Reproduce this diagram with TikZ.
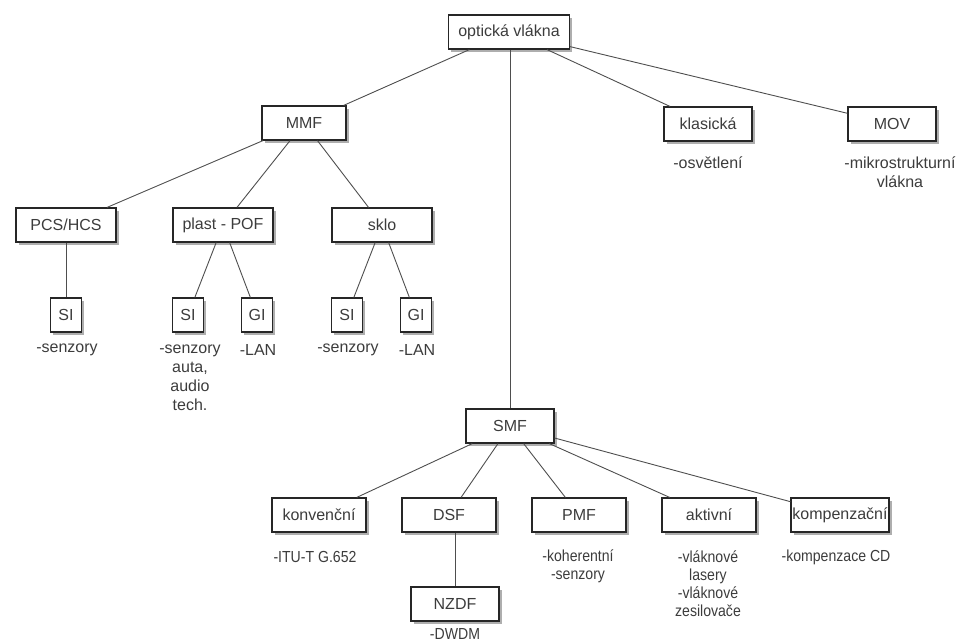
\documentclass[tikz,border=0pt]{standalone}
\usepackage{fontspec}
\setmainfont{Liberation Sans}
\newfontfamily\condfont[FakeStretch=0.88]{Liberation Sans}
\usetikzlibrary{shadows}
\definecolor{textogris}{HTML}{3C3C3C}
\definecolor{lineagris}{HTML}{4E4E4E}

\begin{document}
\begin{tikzpicture}[x=1pt, y=-1pt,
    caja/.style={draw=black!85, line width=1.2pt, fill=white, text=textogris,
      minimum width=#1, minimum height=34pt, inner sep=0pt,
      font=\fontsize{16}{19}\selectfont,
      drop shadow={shadow xshift=2.5pt, shadow yshift=-3pt,
        fill=black!45, opacity=0.7}},
    caja/.default=88pt,
    nota/.style={align=center, inner sep=0pt, text=textogris,
      font=\fontsize{16}{19}\selectfont},
    notab/.style={nota, font=\condfont\fontsize{16}{18}\selectfont},
    rama/.style={draw=lineagris, line width=0.9pt}]
    % Fija el marco
    \useasboundingbox (0,0) rectangle (957,643);

    % Dibuja las cajas de arriba
    \node[caja=121pt] (opt) at (509,32) {optická vlákna};
    \node[caja=84pt] (mmf) at (304,123) {MMF};
    \node[caja] (klas) at (708,124) {klasická};
    \node[caja] (mov) at (892,124) {MOV};

    % Dibuja las ramas de MMF
    \node[caja=100pt] (pcs) at (66,225) {PCS/HCS};
    \node[caja=100pt] (plast) at (223,225) {plast - POF};
    \node[caja=100pt] (sklo) at (382,225) {sklo};
    \node[caja=31pt] (si1) at (66,315) {SI};
    \node[caja=31pt] (si2) at (188,315) {SI};
    \node[caja=31pt] (gi2) at (257,315) {GI};
    \node[caja=31pt] (si3) at (347,315) {SI};
    \node[caja=31pt] (gi3) at (416,315) {GI};

    % Dibuja las ramas de SMF
    \node[caja] (smf) at (510,426) {SMF};
    \node[caja=94pt] (konv) at (319,515) {konvenční};
    \node[caja=94pt] (dsf) at (449,515) {DSF};
    \node[caja=94pt] (pmf) at (579,515) {PMF};
    \node[caja=94pt] (akt) at (709,515) {aktivní};
    \node[caja=98pt] (komp) at (840,515) {kompenzační};
    \node[caja] (nzdf) at (455,604) {NZDF};

    % Dibuja las lineas
    \draw[rama] (opt) -- (mmf);
    \draw[rama] (opt) -- (klas);
    \draw[rama] (opt) -- (mov);
    \draw[rama] (opt.south -| smf) -- (smf);
    \draw[rama] (mmf) -- (pcs);
    \draw[rama] (mmf) -- (plast);
    \draw[rama] (mmf) -- (sklo);
    \draw[rama] (pcs) -- (si1);
    \draw[rama] (plast) -- (si2);
    \draw[rama] (plast) -- (gi2);
    \draw[rama] (sklo) -- (si3);
    \draw[rama] (sklo) -- (gi3);
    \draw[rama] (smf) -- (konv);
    \draw[rama] (smf) -- (dsf);
    \draw[rama] (smf) -- (pmf);
    \draw[rama] (smf) -- (akt);
    \draw[rama] (smf) -- (komp);
    \draw[rama] (dsf.south -| nzdf) -- (nzdf);

    % Escribe los usos
    \node[nota] (osv) at (708,163) {-osvětlení};
    \node[nota] (mikro) at (900,172) {-mikrostrukturní\\vlákna};
    \node[nota] (sen1) at (67,350) {-senzory};
    \node[nota] (sen2) at (190,378) {-senzory\\auta,\\audio\\tech.};
    \node[nota] (lan2) at (258,350) {-LAN};
    \node[nota] (sen3) at (348,350) {-senzory};
    \node[nota] (lan3) at (417,350) {-LAN};
    \node[notab] (itu) at (315,557) {-ITU-T G.652};
    \node[notab] (kohe) at (578,566) {-koherentní\\-senzory};
    \node[notab] (vlak) at (708,584) {-vláknové\\lasery\\-vláknové\\zesilovače};
    \node[notab] (kcd) at (836,557) {-kompenzace CD};
    \node[notab] (dwdm) at (455,634) {-DWDM};
\end{tikzpicture}
\end{document}
